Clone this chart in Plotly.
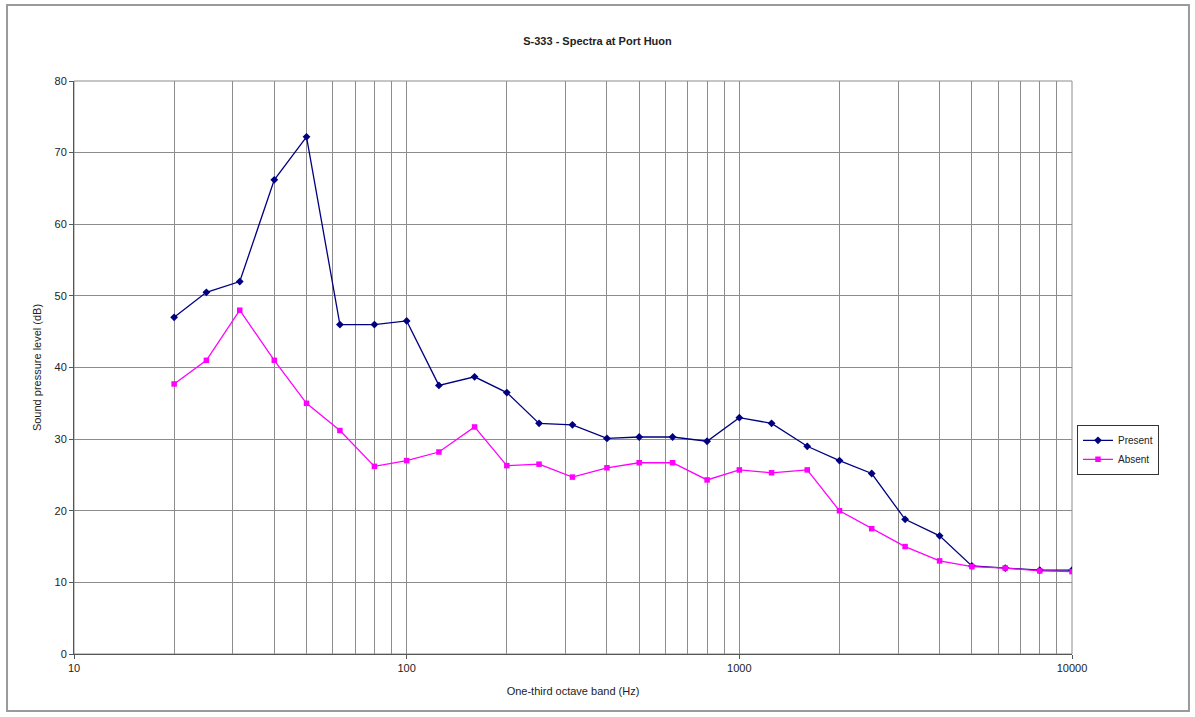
import plotly.graph_objects as go

# One-third octave band centre frequencies (Hz)
bands = [20, 25, 31.5, 40, 50, 63, 80, 100, 125, 160, 200, 250, 315, 400, 500,
         630, 800, 1000, 1250, 1600, 2000, 2500, 3150, 4000, 5000, 6300, 8000, 10000]

# Sound pressure levels (dB)
present = [47.0, 50.5, 52.0, 66.2, 72.2, 46.0, 46.0, 46.5, 37.5, 38.7, 36.5, 32.2, 32.0, 30.1,
           30.3, 30.3, 29.7, 33.0, 32.2, 29.0, 27.0, 25.2, 18.8, 16.5, 12.3, 12.0, 11.7, 11.7]
absent = [37.7, 41.0, 48.0, 41.0, 35.0, 31.2, 26.2, 27.0, 28.2, 31.7, 26.3, 26.5, 24.7, 26.0,
          26.7, 26.7, 24.3, 25.7, 25.3, 25.7, 20.0, 17.5, 15.0, 13.0, 12.2, 12.0, 11.6, 11.5]

x_ticks = [10, 100, 1000, 10000]
y_ticks = [0, 10, 20, 30, 40, 50, 60, 70, 80]

FONT = "Liberation Sans, Arial, sans-serif"
GRID = "#8c8c8c"

fig = go.Figure()
fig.add_trace(go.Scatter(
    x=bands, y=present, name="Present", mode="lines+markers",
    line=dict(color="#000080", width=1.3),
    marker=dict(symbol="diamond", size=6, color="#000080"),
))
fig.add_trace(go.Scatter(
    x=bands, y=absent, name="Absent", mode="lines+markers",
    line=dict(color="#FF00FF", width=1.3),
    marker=dict(symbol="square", size=5.5, color="#FF00FF"),
))

# minor log gridlines at 2..9 of each decade
minor_vals = [m * d for d in (10, 100, 1000) for m in range(2, 10)]

fig.update_xaxes(
    type="log", range=[1, 4],
    tickvals=x_ticks, ticktext=[str(v) for v in x_ticks],
    showgrid=True, gridcolor=GRID, gridwidth=1,
    minor=dict(tickvals=minor_vals, showgrid=True, gridcolor=GRID, gridwidth=1),
    showline=True, linecolor="#555555", linewidth=1, mirror=False,
    ticks="outside", ticklen=4, tickcolor="#555555",
    tickfont=dict(family=FONT, size=11, color="#222222"),
    title=dict(text="One-third octave band (Hz)", font=dict(family=FONT, size=11, color="#222222"), standoff=14),
    zeroline=False,
)
fig.update_yaxes(
    range=[0, 80], tickvals=y_ticks,
    showgrid=True, gridcolor=GRID, gridwidth=1,
    showline=True, linecolor="#555555", linewidth=1,
    ticks="outside", ticklen=4, tickcolor="#555555",
    tickfont=dict(family=FONT, size=11, color="#222222"),
    title=dict(text="Sound pressure level (dB)", font=dict(family=FONT, size=11, color="#222222"), standoff=10),
    zeroline=False,
)

# outer frame around the whole chart
fig.add_shape(type="rect", xref="paper", yref="paper",
              x0=-0.0671, x1=1.1172, y0=-0.0995, y1=1.1326,
              line=dict(color="#9a9a9a", width=2), layer="below")
# plot area border (top / right)
fig.add_shape(type="rect", xref="paper", yref="paper",
              x0=0, x1=1, y0=0, y1=1,
              line=dict(color=GRID, width=1), layer="below")

fig.update_layout(
    width=1195, height=717,
    margin=dict(l=74, r=123, t=81, b=63),
    paper_bgcolor="white", plot_bgcolor="white",
    title=dict(text="<b>S-333 - Spectra at Port Huon</b>", x=0.5, xanchor="center",
               y=0.943, yanchor="middle",
               font=dict(family=FONT, size=11, color="#222222")),
    legend=dict(x=1.005, y=0.40, xanchor="left", yanchor="top",
                bordercolor="#333333", borderwidth=1, bgcolor="white",
                font=dict(family=FONT, size=10, color="#222222"),
                itemwidth=30, tracegroupgap=2),
    showlegend=True,
)

fig.write_html("out.html")
